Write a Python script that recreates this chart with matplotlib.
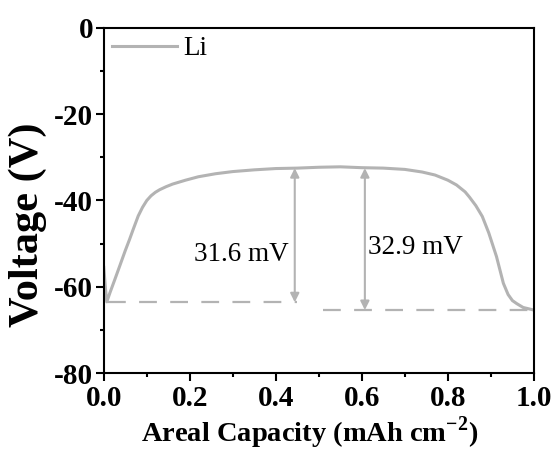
import matplotlib
matplotlib.use("Agg")
import matplotlib.pyplot as plt
from matplotlib.ticker import MultipleLocator

plt.rcParams['font.family'] = ['Liberation Serif', 'DejaVu Serif']
plt.rcParams['mathtext.fontset'] = 'custom'
plt.rcParams['mathtext.rm'] = 'Liberation Serif:bold'
plt.rcParams['mathtext.bf'] = 'Liberation Serif:bold'
plt.rcParams['axes.unicode_minus'] = False

# Li voltage profile
capacity = [0.0, 0.004, 0.007, 0.015, 0.025, 0.037, 0.05, 0.06, 0.068, 0.08, 0.09,
            0.10, 0.11, 0.12, 0.13, 0.145, 0.16, 0.19, 0.22, 0.26, 0.30, 0.35, 0.40,
            0.45, 0.50, 0.55, 0.60, 0.65, 0.70, 0.74, 0.77, 0.80, 0.82, 0.84, 0.85,
            0.865, 0.88, 0.895, 0.913, 0.929, 0.94, 0.95, 0.96, 0.975, 1.0]
voltage = [-55.5, -60.5, -63.5, -61.2, -58.5, -55.2, -51.6, -49.0, -46.8, -43.6, -41.6,
           -40.0, -38.9, -38.1, -37.5, -36.8, -36.2, -35.3, -34.5, -33.8, -33.3, -32.9, -32.6,
           -32.5, -32.3, -32.2, -32.4, -32.5, -32.8, -33.4, -34.1, -35.3, -36.4, -38.0, -39.2,
           -41.2, -43.7, -47.5, -53.0, -59.2, -61.8, -63.2, -63.9, -64.8, -65.4]

# overpotential markers
arrow_x = [0.444, 0.607]
arrow_top = [-32.5, -32.5]
arrow_bottom = [-63.6, -65.4]
dash_start = [0.01, 0.51]
dash_end = [0.45, 1.0]
labels = ['31.6 mV', '32.9 mV']
label_x = [0.43, 0.615]
label_y = [-52.5, -51.0]

grey = '#b3b3b3'

fig, ax = plt.subplots(figsize=(5.55, 4.5), dpi=100)
fig.subplots_adjust(left=0.187, right=0.962, top=0.938, bottom=0.171)

ax.plot(capacity, voltage, color=grey, lw=2.2, label='Li', solid_joinstyle='round')

for i in range(2):
    ax.plot([dash_start[i], dash_end[i]], [arrow_bottom[i], arrow_bottom[i]],
            color=grey, lw=1.6, ls=(0, (8, 6)))
    ax.annotate('', xy=(arrow_x[i], arrow_top[i]), xytext=(arrow_x[i], arrow_bottom[i]),
                arrowprops=dict(arrowstyle='<|-|>', color=grey, lw=1.5,
                                mutation_scale=13, shrinkA=0, shrinkB=0))
    ax.text(label_x[i], label_y[i], labels[i], fontsize=19.5,
            ha='right' if i == 0 else 'left', va='center')

ax.set_xlim(0, 1.0)
ax.set_ylim(-80, 0)
ax.xaxis.set_major_locator(MultipleLocator(0.2))
ax.xaxis.set_minor_locator(MultipleLocator(0.1))
ax.yaxis.set_major_locator(MultipleLocator(20))
ax.yaxis.set_minor_locator(MultipleLocator(10))
ax.tick_params(which='major', direction='out', length=5.5, width=1.5, labelsize=21)
ax.tick_params(axis='x', which='major', pad=3)
ax.tick_params(axis='y', which='major', pad=2)
ax.tick_params(which='minor', direction='out', length=3, width=1.5)
for lbl in ax.get_xticklabels() + ax.get_yticklabels():
    lbl.set_fontweight('bold')
for sp in ax.spines.values():
    sp.set_linewidth(1.5)

ax.set_xlabel('Areal Capacity (mAh cm$^{-2}$)', fontsize=20.5, fontweight='bold')
ax.set_ylabel('Voltage (V)', fontsize=30.5, fontweight='bold')
ax.xaxis.set_label_coords(0.479, -0.172)
ax.yaxis.set_label_coords(-0.177, 0.43)
ax.xaxis.label.set_va('center')
ax.yaxis.label.set_va('center')

ax.legend(loc='upper left', frameon=False, fontsize=19.5, handlelength=2.4,
          borderaxespad=0.1, borderpad=0.2, handletextpad=0.25)

fig.savefig('out.png', dpi=100)
